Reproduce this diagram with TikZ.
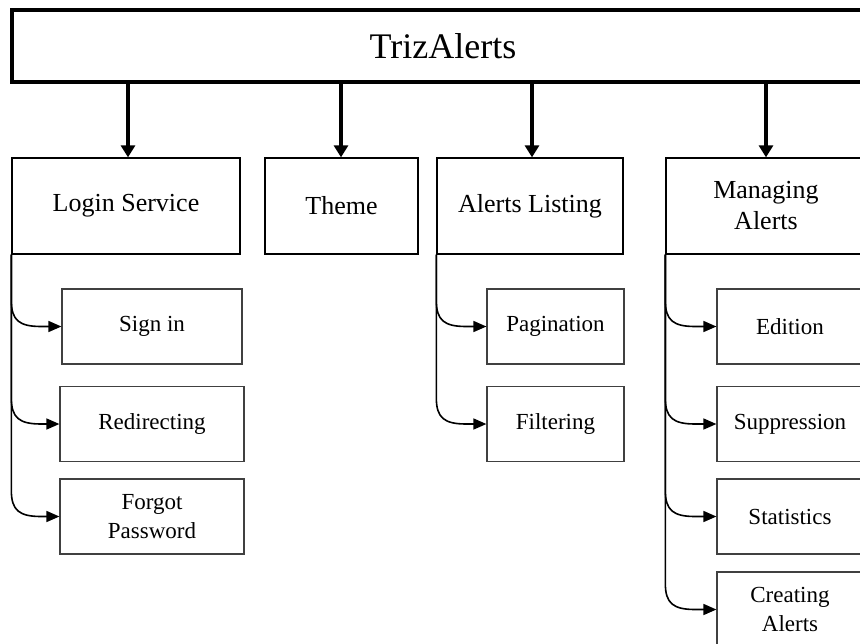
\documentclass[tikz,border=0pt]{standalone}
\usepackage{fontspec}
\setmainfont{Liberation Serif}
\usetikzlibrary{arrows.meta}
\newcommand\brarrow[2]{%
  \draw[branch] (#1.south west) -- ([yshift=26pt]#1.south west |- #2.west)
    .. controls ([yshift=6pt]#1.south west |- #2.west) and ([xshift=8pt]#1.south west |- #2.west)
    .. ([xshift=30pt]#1.south west |- #2.west) -- (#2.west);}
\begin{document}
\begin{tikzpicture}[x=1pt,y=-1pt,
  topbox/.style={draw=black,line width=4pt,minimum width=862pt,minimum height=72pt,inner sep=0pt,font=\fontsize{36}{40}\selectfont},
  midbox/.style={draw=black,line width=1.3pt,minimum height=96pt,inner sep=0pt,align=center,font=\fontsize{26}{31}\selectfont},
  subbox/.style={draw=black!75,line width=1.2pt,minimum height=75pt,inner sep=0pt,align=center,font=\fontsize{23}{29}\selectfont},
  bigarrow/.style={line width=3.5pt,-{Triangle[length=12pt,width=14pt]}},
  branch/.style={line width=1.6pt,-{Triangle[length=13pt,width=11pt]}}]
\useasboundingbox (0,0) rectangle (860,643);
\clip (0,0) rectangle (860,643);
\node[topbox] (top) at (443,46) {TrizAlerts};
\node[midbox,minimum width=228pt] (login) at (126,206) {Login Service};
\node[midbox,minimum width=153pt] (theme) at (341.5,206) {Theme};
\node[midbox,minimum width=186pt] (alist) at (530,206) {Alerts Listing};
\node[midbox,minimum width=200pt] (manage) at (766,206) {Managing\\Alerts};
\coordinate (a1) at (128,82);
\coordinate (a2) at (341,82);
\coordinate (a3) at (532,82);
\coordinate (a4) at (766,82);
\draw[bigarrow] (a1) -- (a1 |- login.north);
\draw[bigarrow] (a2) -- (a2 |- theme.north);
\draw[bigarrow] (a3) -- (a3 |- alist.north);
\draw[bigarrow] (a4) -- (a4 |- manage.north);
\node[subbox,minimum width=180pt] (signin) at (152,326.5) {Sign in};
\node[subbox,minimum width=184pt] (redir) at (152,424) {Redirecting};
\node[subbox,minimum width=184pt] (forgot) at (152,516.5) {Forgot\\Password};
\node[subbox,minimum width=137pt] (pag) at (555.5,326.5) {Pagination};
\node[subbox,minimum width=137pt] (filt) at (555.5,424) {Filtering};
\node[subbox,minimum width=146pt] (edit) at (790,326.5) {Edition};
\node[subbox,minimum width=146pt] (supp) at (790,424) {Suppression};
\node[subbox,minimum width=146pt] (stat) at (790,516.5) {Statistics};
\node[subbox,minimum width=146pt] (creat) at (790,609.5) {Creating\\Alerts};
\brarrow{login}{signin}
\brarrow{login}{redir}
\brarrow{login}{forgot}
\brarrow{alist}{pag}
\brarrow{alist}{filt}
\brarrow{manage}{edit}
\brarrow{manage}{supp}
\brarrow{manage}{stat}
\brarrow{manage}{creat}
\end{tikzpicture}
\end{document}
